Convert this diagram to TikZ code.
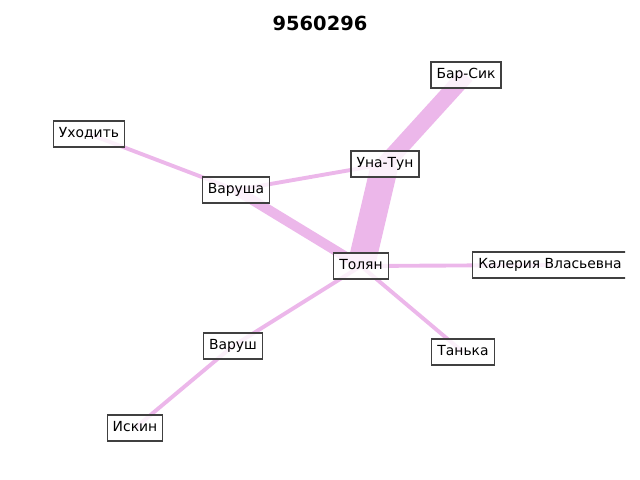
\documentclass[tikz,border=0pt]{standalone}
\usepackage{fontspec}
\setmainfont{DejaVu Sans}
\usetikzlibrary{backgrounds}
\definecolor{edgepink}{RGB}{236,183,234}
\definecolor{boxgray}{RGB}{64,64,64}
\begin{document}
\begin{tikzpicture}[x=0.72pt,y=-0.72pt,
		person/.style={draw=boxgray,line width=0.9pt,fill=white,fill opacity=0.8,text opacity=1,
			font=\fontsize{10}{12}\selectfont,inner xsep=4pt,inner ysep=4.4pt,text height=0.76em,text depth=0.24em},
		link/.style={draw=edgepink,line width=#1},link/.default=2.8pt]
		\useasboundingbox (0,0) rectangle (640,480);
		\node[font=\fontsize{14}{16}\selectfont\bfseries] (title) at (320,23) {9560296};
		\begin{scope}
			\clip (0,0) rectangle (625,480);
			\node[person] (barsik) at (466,75) {Бар-Сик};
			\node[person] (ukhodit) at (89,134) {Уходить};
			\node[person] (unatun) at (385,164) {Уна-Тун};
			\node[person] (varusha) at (236,190) {Варуша};
			\node[person] (tolyan) at (361,266) {Толян};
			\node[person] (kaleriya) at (550,265) {Калерия Власьевна};
			\node[person] (varush) at (233,346) {Варуш};
			\node[person] (tanka) at (463,352) {Танька};
			\node[person] (iskin) at (135,428) {Искин};
		\end{scope}
		\begin{scope}[on background layer]
			\draw[link=12.2pt](barsik.center)--(unatun.center);
			\draw[link=19.8pt](unatun.center)--(tolyan.center);
			\draw[link=7.2pt](varusha.center)--(tolyan.center);
			\draw[link](varusha.center)--(unatun.center);
			\draw[link](ukhodit.center)--(varusha.center);
			\draw[link](tolyan.center)--(kaleriya.center);
			\draw[link](tolyan.center)--(tanka.center);
			\draw[link](tolyan.center)--(varush.center);
			\draw[link](varush.center)--(iskin.center);
		\end{scope}
	\end{tikzpicture}
\end{document}
